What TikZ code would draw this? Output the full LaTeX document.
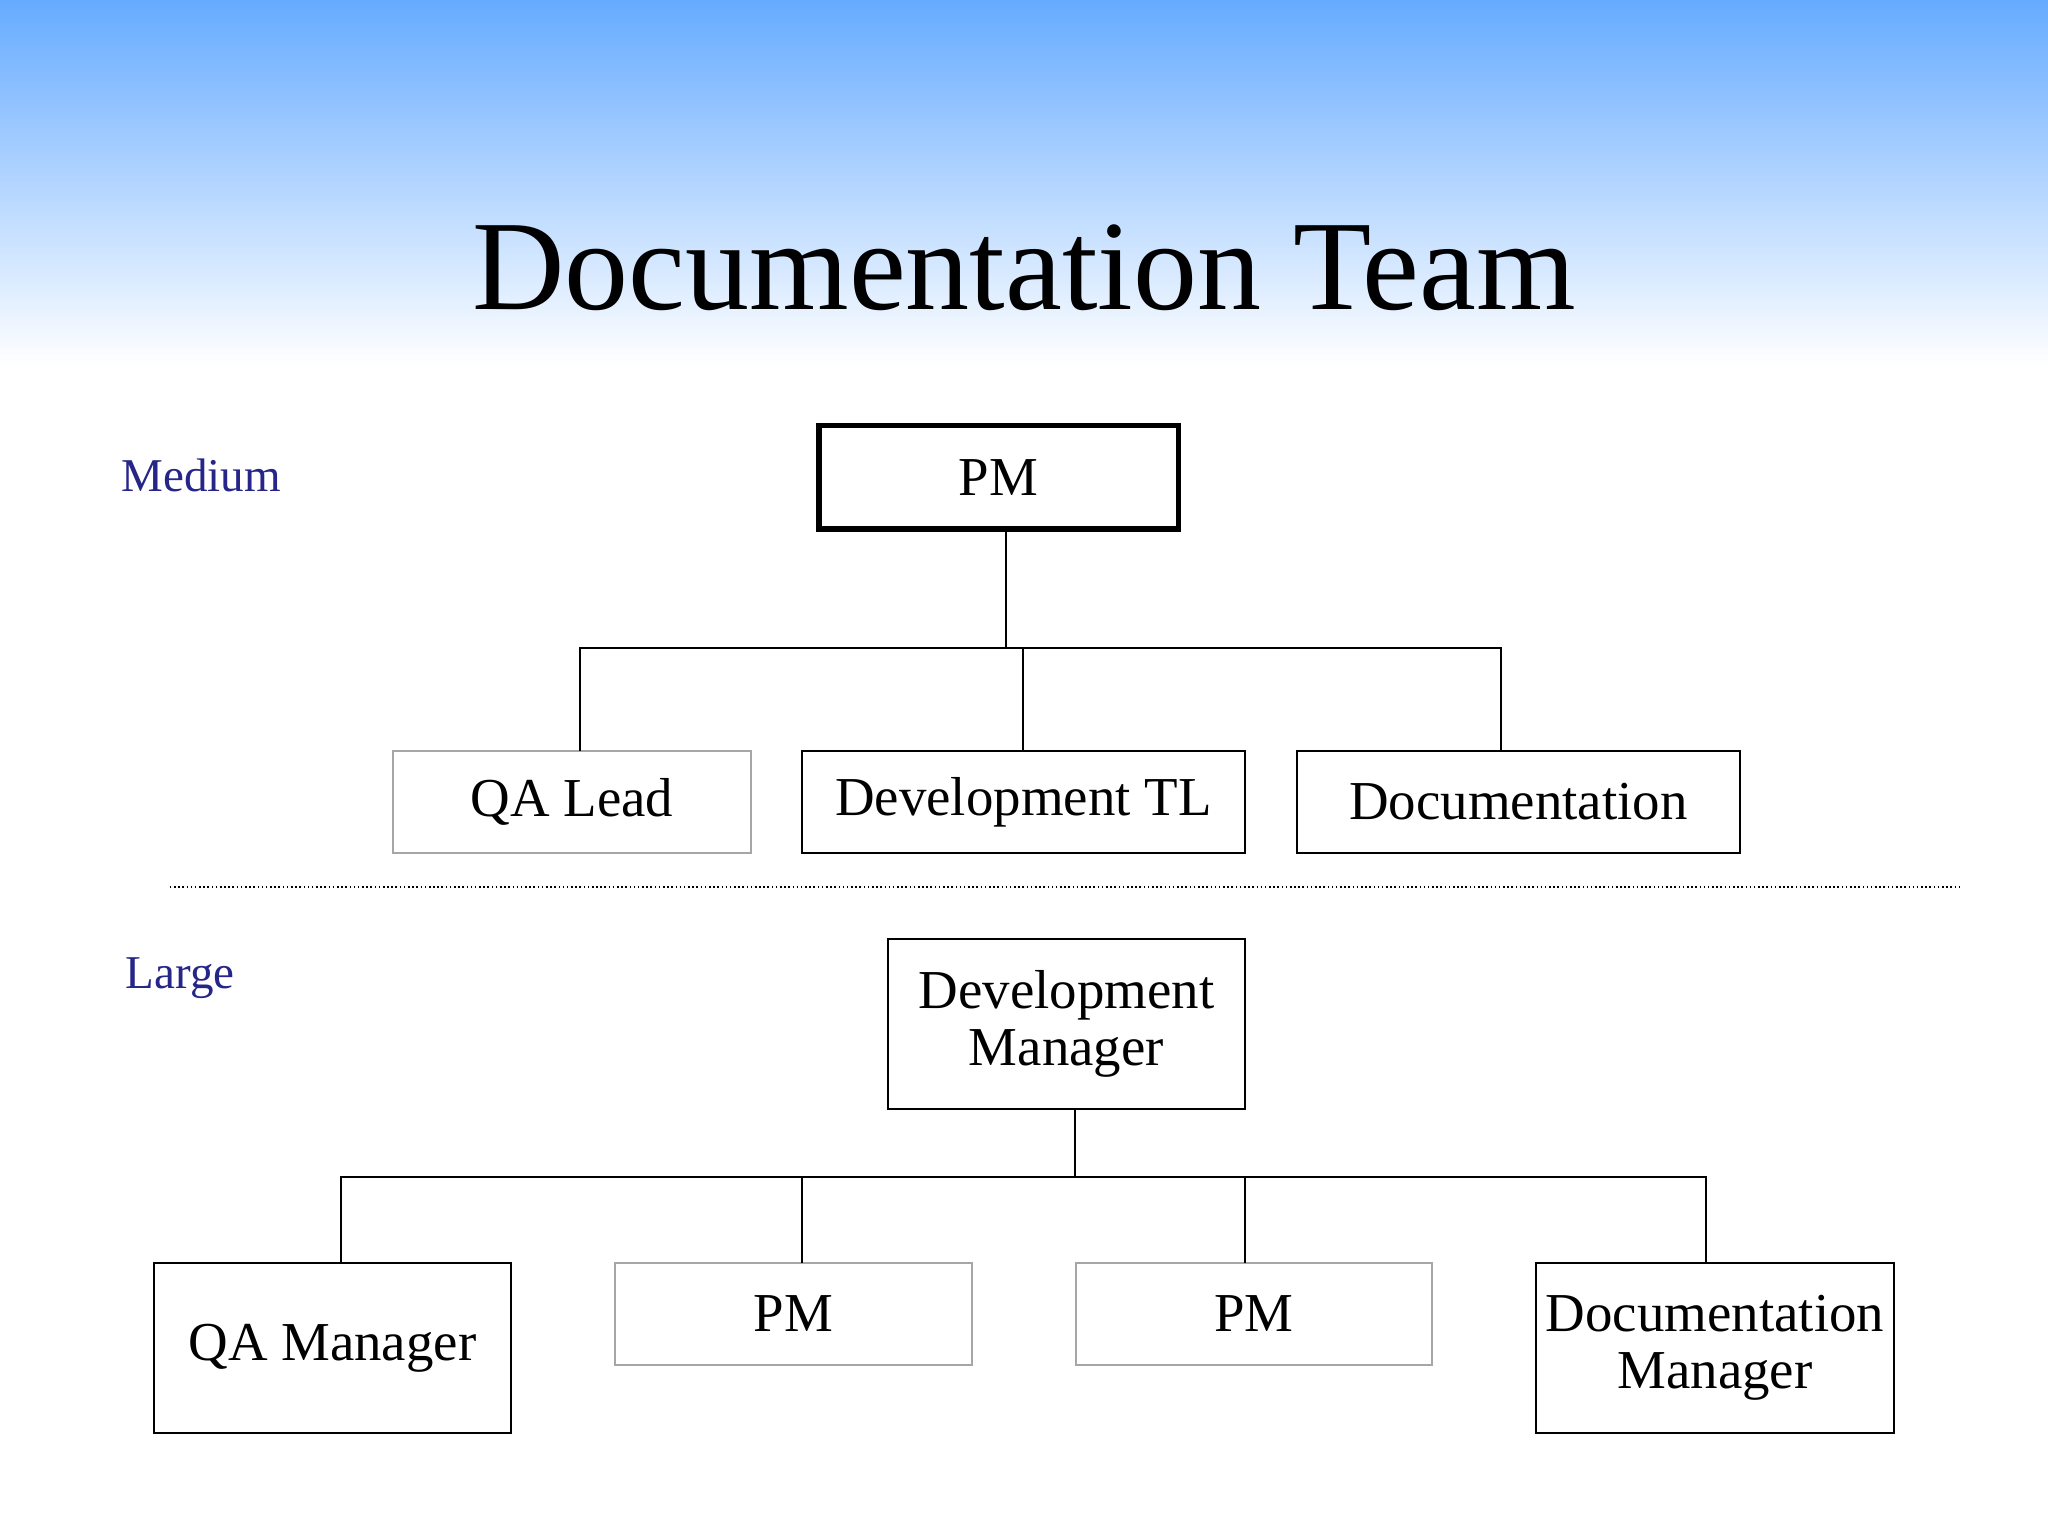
\documentclass[tikz,border=0pt]{standalone}
\usepackage{fontspec}
\setmainfont{Liberation Serif}
\begin{document}
\begin{tikzpicture}[x=1pt,y=-1pt,
  box/.style={draw=black,line width=1.5pt,fill=white,inner sep=0pt,align=center,font=\fontsize{42}{48}\selectfont},
  gbox/.style={box,draw=gray!70},
  lnk/.style={line width=1.5pt},
  lbl/.style={text=blue!45!black!85,font=\fontsize{36}{40}\selectfont,anchor=west,inner sep=0pt}]
\useasboundingbox (0,0) rectangle (1568,1176);
\fill[white] (0,0) rectangle (1568,1176);
\shade[top color=blue!55!cyan!60!white, bottom color=white] (0,0) rectangle (1568,280);
\node (title) at (784,205) {\fontsize{98}{110}\selectfont Documentation Team};
\node[lbl] (med) at (93,364) {Medium};
\node[lbl] (lrg) at (96,749) {Large};
% medium
\node[box,line width=4pt,minimum width=275,minimum height=79] (pm) at (764.5,365.5) {PM};
\node[gbox,minimum width=274,minimum height=78] (qa) at (438,614) {QA Lead};
\node[box,minimum width=339,minimum height=78] (dtl) at (783.5,614) {Development TL};
\node[box,minimum width=339,minimum height=78] (doc) at (1162.5,614) {Documentation};
\coordinate (m1) at (770,496);
\draw[lnk] (770,405) -- (m1);
\draw[lnk] (444,575) |- (m1) -| (1149,575);
\draw[lnk] (783,496) -- (783,575);
\draw[dotted,line width=1.2pt] (130,679) -- (1502,679);
% large
\node[box,minimum width=273,minimum height=130] (dm) at (816.5,784) {Development\\[-4pt]Manager};
\node[box,minimum width=273,minimum height=130] (qam) at (254.5,1032) {QA Manager};
\node[gbox,minimum width=273,minimum height=78] (pm2) at (607.5,1006) {PM};
\node[gbox,minimum width=273,minimum height=78] (pm3) at (960,1006) {PM};
\node[box,minimum width=274,minimum height=130] (dcm) at (1313,1032) {Documentation\\[-4pt]Manager};
\coordinate (l1) at (823,901);
\draw[lnk] (823,849) -- (l1);
\draw[lnk] (261,967) |- (l1) -| (1306,967);
\draw[lnk] (614,901) -- (614,967);
\draw[lnk] (953,901) -- (953,967);
\end{tikzpicture}
\end{document}
